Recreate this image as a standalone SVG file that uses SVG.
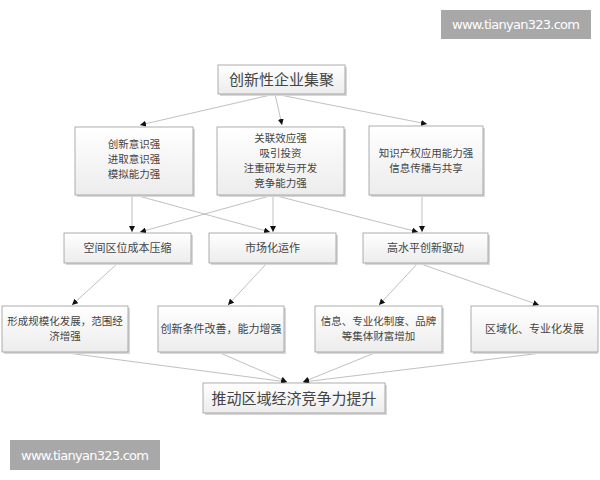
<svg xmlns="http://www.w3.org/2000/svg" width="600" height="480" viewBox="0 0 600 480">
<defs>
<linearGradient id="g" x1="0" y1="0" x2="0" y2="1">
<stop offset="0" stop-color="#ffffff"/>
<stop offset="1" stop-color="#ececec"/>
</linearGradient>
<marker id="a" markerUnits="userSpaceOnUse" markerWidth="7" markerHeight="6" refX="6" refY="3" orient="auto">
<path d="M0,0 L6,3 L0,6 z" fill="#111"/>
</marker>
</defs>
<style>
.box{fill:url(#g);stroke:#9a9a9a;stroke-width:0.8}
.sh{fill:#d8d8d8}
.t{font-family:"Noto Sans CJK SC","Noto Sans",sans-serif;font-size:11px;fill:#444;text-anchor:middle}
.m{font-size:10.5px}
.big{font-size:15px}
.c line{stroke:#b0b0b0;stroke-width:0.8;marker-end:url(#a)}
.wm{fill:#a8a8a8}
.wt{font-family:"DejaVu Sans","Liberation Sans",sans-serif;font-size:13px;fill:#fff;text-anchor:middle}
</style>
<rect width="600" height="480" fill="#fff"/>

<g class="c" id="connectors">
<line x1="275" y1="94" x2="140" y2="125"/>
<line x1="275" y1="94" x2="282" y2="125"/>
<line x1="275" y1="94" x2="427" y2="124"/>
<line x1="132" y1="195" x2="132" y2="232"/>
<line x1="273" y1="195" x2="140" y2="232"/>
<line x1="135" y1="195" x2="270" y2="232"/>
<line x1="273" y1="195" x2="273" y2="232"/>
<line x1="273" y1="195" x2="418" y2="232"/>
<line x1="422" y1="195" x2="422" y2="232"/>
<line x1="118" y1="263" x2="72" y2="305"/>
<line x1="267" y1="263" x2="228" y2="305"/>
<line x1="418" y1="263" x2="379" y2="305"/>
<line x1="418" y1="263" x2="539" y2="305"/>
<line x1="60" y1="352" x2="287" y2="382"/>
<line x1="218" y1="352" x2="287" y2="382"/>
<line x1="377" y1="352" x2="303" y2="382"/>
<line x1="550" y1="352" x2="303" y2="382"/>
</g>

<g id="top">
<rect class="sh" x="220" y="67" width="127" height="29"/>
<rect class="box" x="218" y="65" width="127" height="29"/>
<text class="t big" x="281.5" y="85">创新性企业集聚</text>
</g>

<g id="r2a">
<rect class="sh" x="77" y="129" width="118" height="68"/>
<rect class="box" x="75" y="127" width="118" height="68"/>
<text class="t m" x="134" y="148">创新意识强</text>
<text class="t m" x="134" y="163">进取意识强</text>
<text class="t m" x="134" y="178">模拟能力强</text>
</g>

<g id="r2b">
<rect class="sh" x="219" y="129" width="127" height="68"/>
<rect class="box" x="217" y="127" width="127" height="68"/>
<text class="t m" x="280.5" y="142">关联效应强</text>
<text class="t m" x="280.5" y="157">吸引投资</text>
<text class="t m" x="280.5" y="172">注重研发与开发</text>
<text class="t m" x="280.5" y="187">竞争能力强</text>
</g>

<g id="r2c">
<rect class="sh" x="371" y="128" width="114" height="69"/>
<rect class="box" x="369" y="126" width="114" height="69"/>
<text class="t m" x="426" y="157">知识产权应用能力强</text>
<text class="t m" x="426" y="172">信息传播与共享</text>
</g>

<g id="r3a">
<rect class="sh" x="66" y="235" width="127" height="30"/>
<rect class="box" x="64" y="233" width="127" height="30"/>
<text class="t" x="127.5" y="252">空间区位成本压缩</text>
</g>

<g id="r3b">
<rect class="sh" x="211" y="235" width="127" height="30"/>
<rect class="box" x="209" y="233" width="127" height="30"/>
<text class="t" x="272.5" y="252">市场化运作</text>
</g>

<g id="r3c">
<rect class="sh" x="365" y="235" width="125" height="30"/>
<rect class="box" x="363" y="233" width="125" height="30"/>
<text class="t" x="425.5" y="252">高水平创新驱动</text>
</g>

<g id="r4a">
<rect class="sh" x="4" y="308" width="126" height="46"/>
<rect class="box" x="2" y="306" width="126" height="46"/>
<text class="t m" x="65" y="325">形成规模化发展，范围经</text>
<text class="t m" x="65" y="340">济增强</text>
</g>

<g id="r4b">
<rect class="sh" x="160" y="308" width="126" height="46"/>
<rect class="box" x="158" y="306" width="126" height="46"/>
<text class="t" x="221" y="333">创新条件改善，能力增强</text>
</g>

<g id="r4c">
<rect class="sh" x="317" y="308" width="127" height="46"/>
<rect class="box" x="315" y="306" width="127" height="46"/>
<text class="t m" x="378.5" y="325">信息、专业化制度、品牌</text>
<text class="t m" x="378.5" y="340">等集体财富增加</text>
</g>

<g id="r4d">
<rect class="sh" x="473" y="308" width="125" height="46"/>
<rect class="box" x="471" y="306" width="127" height="46"/>
<text class="t" x="534.5" y="333">区域化、专业化发展</text>
</g>

<g id="bottom">
<rect class="sh" x="205" y="385" width="182" height="30"/>
<rect class="box" x="203" y="383" width="182" height="30"/>
<text class="t big" x="294" y="404">推动区域经济竞争力提升</text>
</g>

<g id="watermarks">
<rect class="wm" x="441" y="10" width="150" height="29"/>
<text class="wt" x="516" y="29" textLength="128">www.tianyan323.com</text>
<rect class="wm" x="10" y="440" width="150" height="30"/>
<text class="wt" x="85" y="460" textLength="128">www.tianyan323.com</text>
</g>
</svg>
